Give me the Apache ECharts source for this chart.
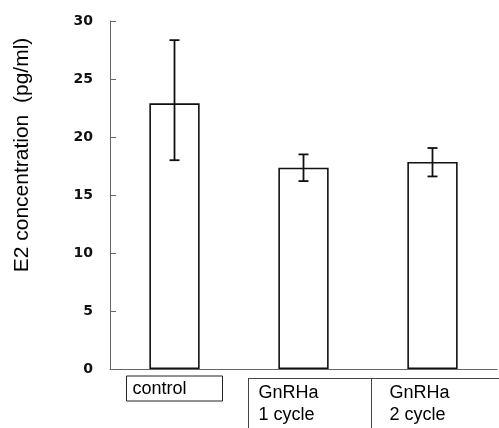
<!DOCTYPE html>
<html>
<head>
<meta charset="utf-8">
<script src="https://cdn.jsdelivr.net/npm/echarts@6/dist/echarts.min.js"></script>
<style>
html,body{margin:0;padding:0;background:#fff;}
#chart{width:499px;height:428px;}
</style>
</head>
<body>
<div id="chart"></div>
<script>
var categories = ['control', 'GnRHa\n1 cycle', 'GnRHa\n2 cycle'];
var means = [22.9, 17.35, 17.85];
var errLow = [18.0, 16.2, 16.6];
var errHigh = [28.35, 18.5, 19.05];
var yTicks = [0, 5, 10, 15, 20, 25, 30];

var chart = echarts.init(document.getElementById('chart'), null, {renderer: 'canvas'});

var errData = categories.map(function (c, i) { return [i, errLow[i], errHigh[i]]; });

var option = {
  animation: false,
  backgroundColor: '#fff',
  grid: {left: 110, top: 21, right: 2, bottom: 59},
  xAxis: {
    type: 'category',
    data: categories,
    axisLine: {lineStyle: {color: '#666', width: 1}},
    axisTick: {inside: true, length: 4, lineStyle: {color: '#666'}},
    axisLabel: {
      margin: 9,
      interval: 0,
      formatter: function (v, i) {
        var key = i === 0 ? 'c' : ('g' + i);
        return v.split('\n').map(function (s) { return '{' + key + '|' + s + '}'; }).join('\n');
      },
      rich: {
        c: {fontSize: 18, fontFamily: 'Liberation Sans', color: '#000', borderColor: '#222', borderWidth: 1,
            padding: [4, 36, 3, 6], lineHeight: 21},
        g1: {fontSize: 18, fontFamily: 'Liberation Sans', color: '#000', lineHeight: 22, width: 100, align: 'left', padding: [8, 0, 0, 10]},
        g2: {fontSize: 18, fontFamily: 'Liberation Sans', color: '#000', lineHeight: 22, width: 100, align: 'left', padding: [8, 0, 0, 14]}
      }
    }
  },
  yAxis: {
    type: 'value',
    min: 0, max: 30, interval: 5,
    name: 'E2 concentration  (pg/ml)',
    nameLocation: 'middle',
    nameRotate: 90,
    nameGap: 77,
    nameTextStyle: {fontSize: 21, fontFamily: 'Liberation Sans', color: '#000', padding: [0, 0, 0, 80]},
    axisLine: {show: true, lineStyle: {color: '#666', width: 1}},
    axisTick: {show: true, inside: true, length: 6, lineStyle: {color: '#666'}},
    splitLine: {show: false},
    axisLabel: {
      margin: 17,
      fontSize: 14, fontWeight: 'bold', fontFamily: 'DejaVu Sans', color: '#111',
      formatter: function (v) { return yTicks.indexOf(v) >= 0 ? String(v) : ''; }
    }
  },
  series: [
    {
      type: 'bar',
      data: means,
      barWidth: '39%',
      itemStyle: {color: '#fff', borderColor: '#111', borderWidth: 1.6},
      z: 2
    },
    {
      type: 'custom',
      data: errData,
      z: 5,
      renderItem: function (params, api) {
        var lo = api.coord([api.value(0), api.value(1)]);
        var hi = api.coord([api.value(0), api.value(2)]);
        var hw = 5;
        var st = {stroke: '#111', lineWidth: 1.8};
        return {
          type: 'group',
          children: [
            {type: 'line', shape: {x1: lo[0], y1: lo[1], x2: hi[0], y2: hi[1]}, style: st},
            {type: 'line', shape: {x1: lo[0] - hw, y1: lo[1], x2: lo[0] + hw, y2: lo[1]}, style: st},
            {type: 'line', shape: {x1: hi[0] - hw, y1: hi[1], x2: hi[0] + hw, y2: hi[1]}, style: st}
          ]
        };
      }
    }
  ],
  graphic: [
    {type: 'line', shape: {x1: 248, y1: 378.5, x2: 499, y2: 378.5}, style: {stroke: '#444', lineWidth: 1}},
    {type: 'line', shape: {x1: 248.5, y1: 378, x2: 248.5, y2: 428}, style: {stroke: '#444', lineWidth: 1}},
    {type: 'line', shape: {x1: 371.5, y1: 378, x2: 371.5, y2: 428}, style: {stroke: '#444', lineWidth: 1}}
  ]
};
chart.setOption(option);
</script>
</body>
</html>
